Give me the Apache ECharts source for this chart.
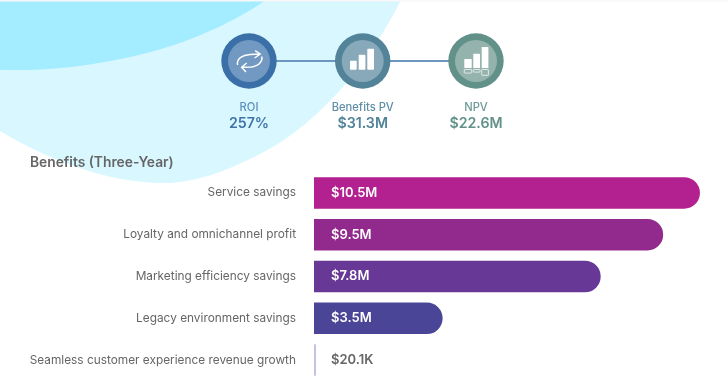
<!DOCTYPE html>
<html>
<head>
<meta charset="utf-8">
<style>html,body{margin:0;padding:0;background:#fff}#c{width:728px;height:391px}</style>
<script src="https://cdn.jsdelivr.net/npm/echarts@6/dist/echarts.min.js"></script>
</head>
<body>
<div id="c"></div>
<script>
const categories = ['Service savings','Loyalty and omnichannel profit','Marketing efficiency savings','Legacy environment savings','Seamless customer experience revenue growth'];
const valuesM = [10.5, 9.5, 7.8, 3.5, 0.0201];
const valueLabels = ['$10.5M','$9.5M','$7.8M','$3.5M','$20.1K'];
const barColors = ['#b2218f','#922a8e','#673896','#4b4598','#c6c3e2'];
const kpiNames = ['ROI','Benefits PV','NPV'];
const kpiValues = ['257%','$31.3M','$22.6M'];
const heading = 'Benefits (Three-Year)';

const FONT = 'Inter, "Noto Sans", sans-serif';
const kpiX = [249, 362.7, 476];
const kpiY = 61;
const kpiStyle = [
  {outer:'#3a6fa8', inner:'#7299c2', name:'#5e8fbb', value:'#3f73a9'},
  {outer:'#528399', inner:'#88a9b9', name:'#5f8fa7', value:'#528399'},
  {outer:'#62918a', inner:'#94b3ac', name:'#6e9c95', value:'#62918a'}
];

const g = [];
g.push({type:'rect', z:0, shape:{x:0,y:0,width:728,height:1.5}, style:{fill:'#f8f8f8'}});
g.push({type:'line', z:3, shape:{x1:kpiX[0],y1:kpiY,x2:kpiX[2],y2:kpiY}, style:{stroke:'#6d97c0',lineWidth:2}});
kpiX.forEach((x,i)=>{
  const s = kpiStyle[i];
  g.push({type:'circle', z:4, shape:{cx:x,cy:kpiY,r:27.7}, style:{fill:s.outer}});
  g.push({type:'circle', z:5, shape:{cx:x,cy:kpiY,r:21}, style:{fill:s.inner}});
  g.push({type:'text', z:6, style:{x:x,y:107.5,text:kpiNames[i],align:'center',verticalAlign:'middle',font:'500 11.2px '+FONT,fill:s.name}});
  g.push({type:'text', z:6, style:{x:x,y:124,text:kpiValues[i],align:'center',verticalAlign:'middle',font:'600 14.2px '+FONT,fill:s.value}});
});
const rects = [[350,60.7,6.7,9],[358.7,54.7,6.7,15],[367.3,48.7,6.7,21]];
rects.forEach(r=>g.push({type:'rect', z:7, shape:{x:r[0],y:r[1],width:r[2],height:r[3],r:0.8}, style:{fill:'#fff'}}));
const rects2 = [[464.3,59,7.4,9],[473.3,53.7,6.7,14.3],[481.7,47,6.7,21]];
rects2.forEach(r=>g.push({type:'rect', z:7, shape:{x:r[0],y:r[1],width:r[2],height:r[3],r:0.5}, style:{fill:'#fff'}}));
[[464.3,69.5,7.4,3.6],[473.3,69.5,6.7,2.6],[481.7,69.5,6.7,5.8]].forEach(r=>g.push({type:'rect', z:7, shape:{x:r[0],y:r[1],width:r[2],height:r[3],r:0.5}, style:{fill:'none',stroke:'#fff',lineWidth:0.7}}));
g.push({type:'text', z:7, style:{x:30,y:163,text:heading,align:'left',verticalAlign:'middle',font:'600 13.8px '+FONT,fill:'#666'}});

const decor = (pathData,x,y,width,height,style,z)=>({type:'custom',coordinateSystem:'none',silent:true,z:z,data:[0],
  renderItem:()=>({type:'path',shape:{pathData,x,y,width,height,layout:'cover'},style})});

const chart = echarts.init(document.getElementById('c'));
chart.setOption({
  animation:false,
  graphic:{elements:g},
  grid:{left:314,top:172,width:404.3,height:209,containLabel:false},
  xAxis:{type:'value',min:0,max:11,show:false},
  yAxis:{type:'category',inverse:true,data:categories,axisLine:{show:false},axisTick:{show:false},
    axisLabel:{color:'#666',fontSize:11.85,fontFamily:FONT,fontWeight:400,margin:18}},
  series:[
    decor('M0,0 L401,0 C372,58 322,122 262,153 C222,174 190,183 165,183 C105,183 45,158 0,131 Z',0,0,401,183,{fill:'#d8f7ff'},-3),
    decor('M0,0 L266,0 C225,28 170,52 100,63 C60,70 25,71 0,70 Z',0,0,266,70,{fill:'#a4ecff'},-2),
    decor('M237.7,65 C236.5,58 243,55 250,54.5 L260,54 M255,50.7 L260,54 L254.5,58 M261.7,56.5 C262.5,62 258,66 252,67 L241.7,67.3 M246.7,63 L241.7,67.3 L246,72',237.4,50.7,24.6,21.3,{fill:'none',stroke:'#fff',lineWidth:1.4},20),
    {type:'bar',z:10,barWidth:31.5,barMinHeight:2,
    data:valuesM.map((v,i)=>({value:v,itemStyle:{color:barColors[i],borderRadius:i<4?[0,15.7,15.7,0]:0},
      label:{color:i<4?'#fff':'#666'}})),
    label:{show:true,position:'insideLeft',distance:17,fontFamily:FONT,fontWeight:600,fontSize:13,
      formatter:p=>valueLabels[p.dataIndex]}}]
});
</script>
</body>
</html>
